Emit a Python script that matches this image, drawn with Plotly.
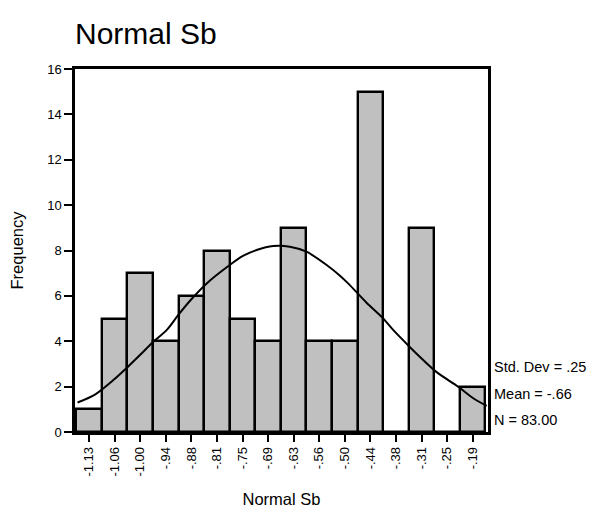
import plotly.graph_objects as go

bin_labels = ["-1.13", "-1.06", "-1.00", "-.94", "-.88", "-.81", "-.75", "-.69",
              "-.63", "-.56", "-.50", "-.44", "-.38", "-.31", "-.25", "-.19"]
frequencies = [1, 5, 7, 4, 6, 8, 5, 4, 9, 4, 4, 15, 0, 9, 0, 2]

# normal curve (x in bin-index units, y in frequency)
curve_x = [-0.45, 0.23, 0.95, 1.54, 2.06, 2.45, 3.04, 3.49, 4.0, 4.6, 5.5, 6.0, 6.55, 7.2,
           7.85, 8.5, 9.29, 9.8, 10.13, 10.85, 11.5, 11.89, 12.54, 12.93,
           13.58, 14.43, 15.01, 15.55]
curve_y = [1.3, 1.65, 2.29, 2.9, 3.47, 3.91, 4.5, 5.16, 5.85, 6.55, 7.36, 7.75, 8.02, 8.2,
           8.17, 7.95, 7.36, 6.9, 6.55, 5.7, 5.01, 4.5, 3.75, 3.32,
           2.65, 2.0, 1.5, 1.15]

stats = ["Std. Dev = .25", "Mean = -.66", "N = 83.00"]
y_ticks = list(range(0, 17, 2))

FONT = "Liberation Sans, Arial, sans-serif"
idx = list(range(len(bin_labels)))

fig = go.Figure()
fig.add_trace(go.Bar(
    x=idx, y=frequencies, width=1,
    marker=dict(color="#c0c0c0", line=dict(color="black", width=2.4)),
    showlegend=False, hoverinfo="skip"))
fig.add_trace(go.Scatter(
    x=curve_x, y=curve_y, mode="lines",
    line=dict(color="black", width=2, shape="spline", smoothing=0.8),
    showlegend=False, hoverinfo="skip"))

for i, s in enumerate(stats):
    fig.add_annotation(text=s, xref="paper", yref="paper", x=1.01, y=0.178 - i * 0.072,
                       xanchor="left", yanchor="middle", showarrow=False,
                       font=dict(family=FONT, size=14.5, color="black"))

fig.update_layout(
    width=595, height=527,
    margin=dict(l=75, r=107, t=69, b=95),
    paper_bgcolor="white", plot_bgcolor="white",
    bargap=0,
    font=dict(family=FONT, color="black"),
    title=dict(text="Normal Sb", x=75 / 595, xanchor="left", y=1 - 33 / 527, yanchor="middle",
               font=dict(family=FONT, size=30, color="black")),
    xaxis=dict(range=[-0.55, 15.6], tickmode="array", tickvals=idx, ticktext=bin_labels,
               tickangle=-90, ticks="outside", ticklen=7, tickwidth=2, tickcolor="black",
               showline=True, linecolor="black", linewidth=2.5, mirror=True,
               showgrid=False, zeroline=False, tickfont=dict(size=13),
               title=dict(text="Normal Sb", font=dict(size=16.5), standoff=18)),
    yaxis=dict(range=[0, 16], tickmode="array", tickvals=y_ticks,
               ticks="outside", ticklen=8, tickwidth=2, tickcolor="black",
               showline=True, linecolor="black", linewidth=2.5, mirror=True,
               showgrid=False, zeroline=False, tickfont=dict(size=13),
               title=dict(text="Frequency", font=dict(size=16.5), standoff=20)),
)

fig.write_html("out.html")
